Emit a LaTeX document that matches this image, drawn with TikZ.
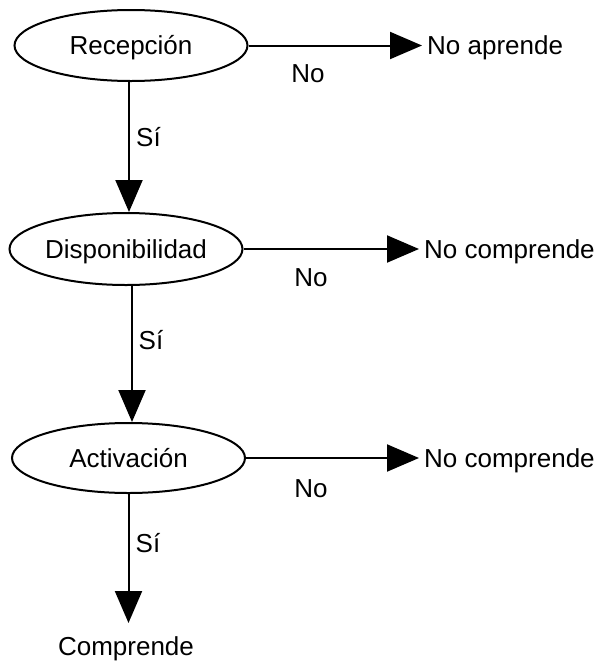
\documentclass[tikz,border=0pt]{standalone}
\usepackage{fontspec}
\setmainfont{Liberation Sans}
\usetikzlibrary{arrows.meta,shapes.geometric}
\begin{document}
\begin{tikzpicture}[x=1pt,y=-1pt,
  every node/.style={font=\fontsize{26}{30}\selectfont},
  stage/.style={draw, ellipse, line width=2pt, minimum width=233pt,
    minimum height=71pt, inner sep=0pt, text height=18.6pt, text depth=0pt},
  lbl/.style={inner sep=0pt, text height=18.6pt, text depth=0pt},
  outcome/.style={lbl, anchor=west, inner xsep=5pt},
  flow/.style={line width=2pt, -{Triangle[length=32pt,width=27pt]}}]
\useasboundingbox (0,0) rectangle (602,662);

% decision stages
\node[stage] (e1) at (131,45.5) {Recepción};
\node[stage, minimum height=72pt] (e2) at (126,249) {Disponibilidad};
\node[stage, minimum height=70pt] (e3) at (128.5,458) {Activación};

% outcomes
\node[outcome] (t1) at (422,45.5) {No aprende};
\node[outcome] (t2) at (419,249) {No comprende};
\node[outcome] (t3) at (419,458) {No comprende};
\node[lbl, inner ysep=14pt, anchor=north] (c) at (126,623) {Comprende};

% branch labels
\node[lbl] (n1) at (308,73) {No};
\node[lbl] (n2) at (311,277) {No};
\node[lbl] (n3) at (311,488) {No};
\node[lbl] (s1) at (148.5,137) {Sí};
\node[lbl] (s2) at (151,340) {Sí};
\node[lbl] (s3) at (148,543) {Sí};

% connectors
\draw[flow] (e1.east) -- (t1.west);
\draw[flow] (e2.east) -- (t2.west);
\draw[flow] (e3.east) -- (t3.west);
\draw[flow] ([xshift=-2pt]e1.south) -- ([xshift=-2pt]e1.south |- e2.north);
\draw[flow] ([xshift=6pt]e2.south) -- ([xshift=6pt]e2.south |- e3.north);
\draw[flow] (e3.south) -- (e3.south |- c.north);
\end{tikzpicture}
\end{document}
